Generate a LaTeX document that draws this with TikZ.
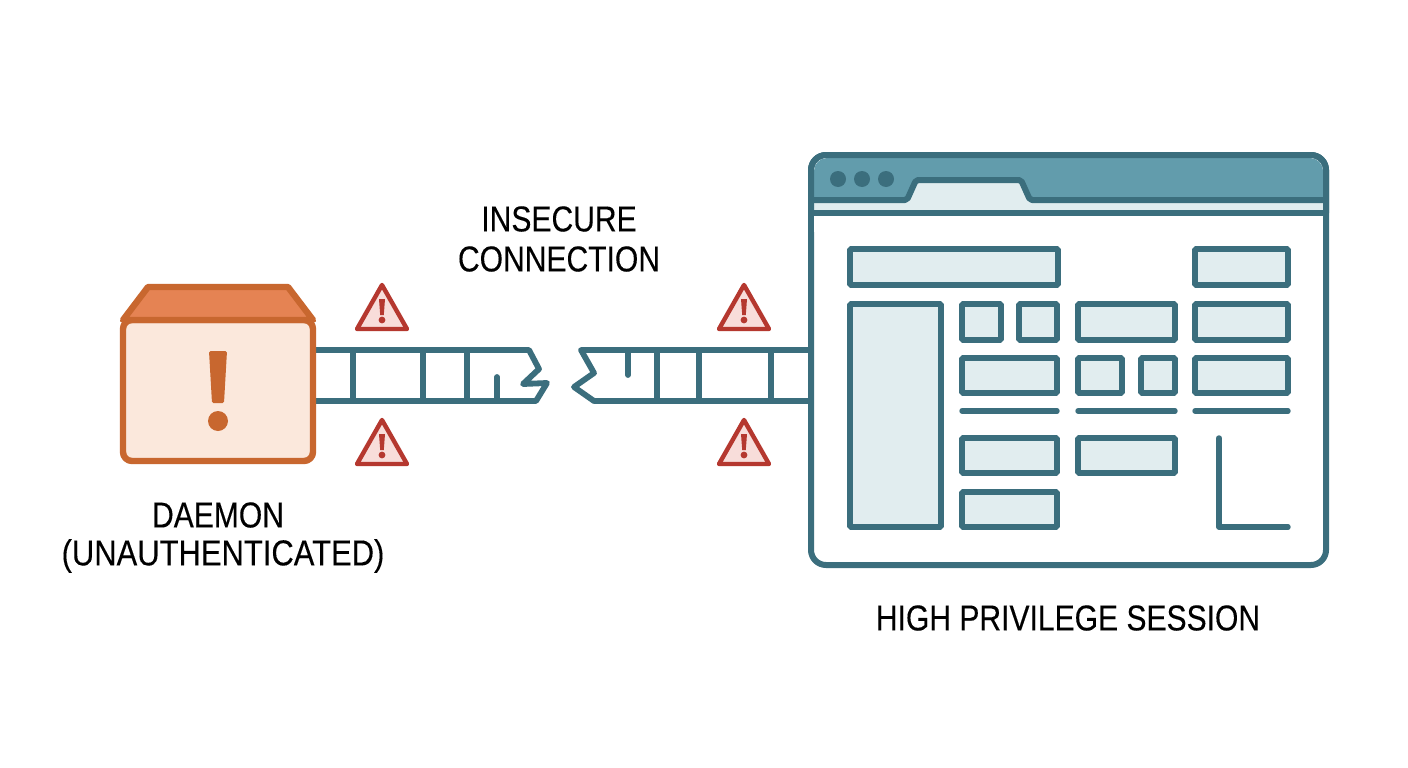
\documentclass[tikz,border=0pt]{standalone}
\usepackage{fontspec}
\setmainfont[FakeStretch=0.835,FakeBold=0.2]{Liberation Sans}
\usetikzlibrary{calc}
\definecolor{teal}{HTML}{3B6E7D}
\definecolor{tealpale}{HTML}{E1EDEF}
\definecolor{tealmid}{HTML}{629CAC}
\definecolor{rust}{HTML}{C8672F}
\definecolor{rustmid}{HTML}{E58353}
\definecolor{rustpale}{HTML}{FBE8DC}
\definecolor{alert}{HTML}{B5382F}
\definecolor{alertpale}{HTML}{F8DDDA}
\tikzset{
  x=1pt,y=-1pt,
  panel/.style={draw=teal,fill=tealpale,line width=5.6pt,rounded corners=1pt,inner sep=0pt,outer sep=0pt,anchor=north west},
  rule/.style={draw=teal,line width=5.4pt,line cap=round,line join=round},
  tube/.style={draw=teal,line width=5.8pt,line join=round,line cap=round},
  caption/.style={font=\fontsize{36}{40}\selectfont,text=black,inner sep=0pt,align=center},
  warnmark/.style={draw=alert,fill=alertpale,line width=4.4pt,line join=round},
  frameline/.style={draw=teal,line width=6pt,line join=round},
}
% rectangle given by its corner and its size
\newcommand{\uipanel}[5]{\node[panel,minimum width=#4pt,minimum height=#5pt] (#1) at (#2,#3) {};}
% warning triangle with the apex at the given point
\newcommand{\warnsign}[3]{%
  \coordinate (#1) at (#2,#3);
  \path[warnmark] (#1) -- ++(25,44) -- ++(-50,0) -- cycle;
  \fill[alert] ($(#1)+(-3,14)$) -- ++(6,0) -- ++(-1.2,16) -- ++(-3.6,0) -- cycle;
  \fill[alert] ($(#1)+(0,35)$) circle (3.4);
}
\begin{document}
\begin{tikzpicture}
\useasboundingbox (0,0) rectangle (1408,768);
\fill[white] (0,0) rectangle (1408,768);

% broken link, daemon side
\coordinate (lt) at (313,350);
\coordinate (lb) at (313,401);
\draw[tube] (lt) -- (529,350) -- (539,369) -- (523,384) -- (547,383) -- (536,401) -- (lb);
\foreach \px in {353,423,467} \draw[tube] (\px,350) -- (\px,401);
\draw[tube] (497,401) -- (497,377);

% broken link, session side
\coordinate (rt) at (811,350);
\coordinate (rb) at (811,401);
\draw[tube] (rt) -- (581,350) -- (594,373) -- (574,387) -- (594,401) -- (rb);
\foreach \px in {657,699,771} \draw[tube] (\px,350) -- (\px,401);
\draw[tube] (628,350) -- (628,375);

% daemon box
\draw[draw=rust,fill=rustpale,line width=6.4pt,line join=round,rounded corners=9pt]
  (123,320) -- (123,461) -- (313,461) -- (313,320) -- cycle;
\draw[draw=rust,fill=rustmid,line width=6.4pt,line join=round]
  (123,320) -- (148,287) -- (288,287) -- (313,320) -- cycle;
\fill[rust,rounded corners=1.5pt] (209,351) -- (227,351) -- (224,403) -- (212,403) -- cycle;
\fill[rust] (218,421) circle (10);
\node[caption] (daemon) at (218,515) {DAEMON};
\node[caption] (daemonstate) at (223,556) {\addfontfeature{FakeStretch=0.86}(UNAUTHENTICATED)};

% warnings along the link
\warnsign{w1}{382}{285}
\warnsign{w2}{382}{420}
\warnsign{w3}{744}{285}
\warnsign{w4}{744}{420}
\node[caption] (insecure) at (559,219) {INSECURE};
\node[caption] (connection) at (559,259) {CONNECTION};

% session window
\draw[draw=teal,fill=white,line width=6pt,rounded corners=15pt]
  (811,155) rectangle (1326,565);
\fill[tealmid,rounded corners=13pt] (814,158) -- (814,230) -- (1323,230) -- (1323,158) -- cycle;
\fill[tealpale] (814,200) -- (907,200) -- (916,180) -- (1021,180) -- (1030,200) -- (1323,200) -- (1323,213) -- (814,213) -- cycle;
\fill[white] (814,213) rectangle (1323,232);
\draw[frameline,rounded corners=2pt]
  (811,200) -- (907,200) -- (916,180) -- (1021,180) -- (1030,200) -- (1326,200);
\draw[frameline] (811,213) -- (1326,213);
\draw[frameline,rounded corners=15pt] (811,213) -- (811,155) -- (1326,155) -- (1326,213);
\foreach \px in {838,862,886} \fill[teal] (\px,179) circle (8);

\uipanel{p1}{850}{249}{208}{36}
\uipanel{p2}{1195}{249}{93}{36}
\uipanel{side}{850}{304}{91}{223}
\uipanel{p3}{962}{304}{39}{36}
\uipanel{p4}{1019}{304}{38}{36}
\uipanel{p5}{1078}{304}{97}{36}
\uipanel{p6}{1195}{304}{93}{36}
\uipanel{p7}{962}{358}{95}{35}
\uipanel{p8}{1078}{358}{44}{35}
\uipanel{p9}{1141}{358}{34}{35}
\uipanel{p10}{1195}{358}{93}{35}
\uipanel{p11}{962}{438}{95}{35}
\uipanel{p12}{1078}{438}{97}{35}
\uipanel{p13}{962}{492}{95}{35}
\draw[rule] (962,411) -- (1057,411);
\draw[rule] (1078,411) -- (1175,411);
\draw[rule] (1195,411) -- (1288,411);
\draw[rule] (1219,438) -- (1219,527) -- (1288,527);
\node[caption] (session) at (1068,618) {HIGH PRIVILEGE SESSION};
\end{tikzpicture}
\end{document}
